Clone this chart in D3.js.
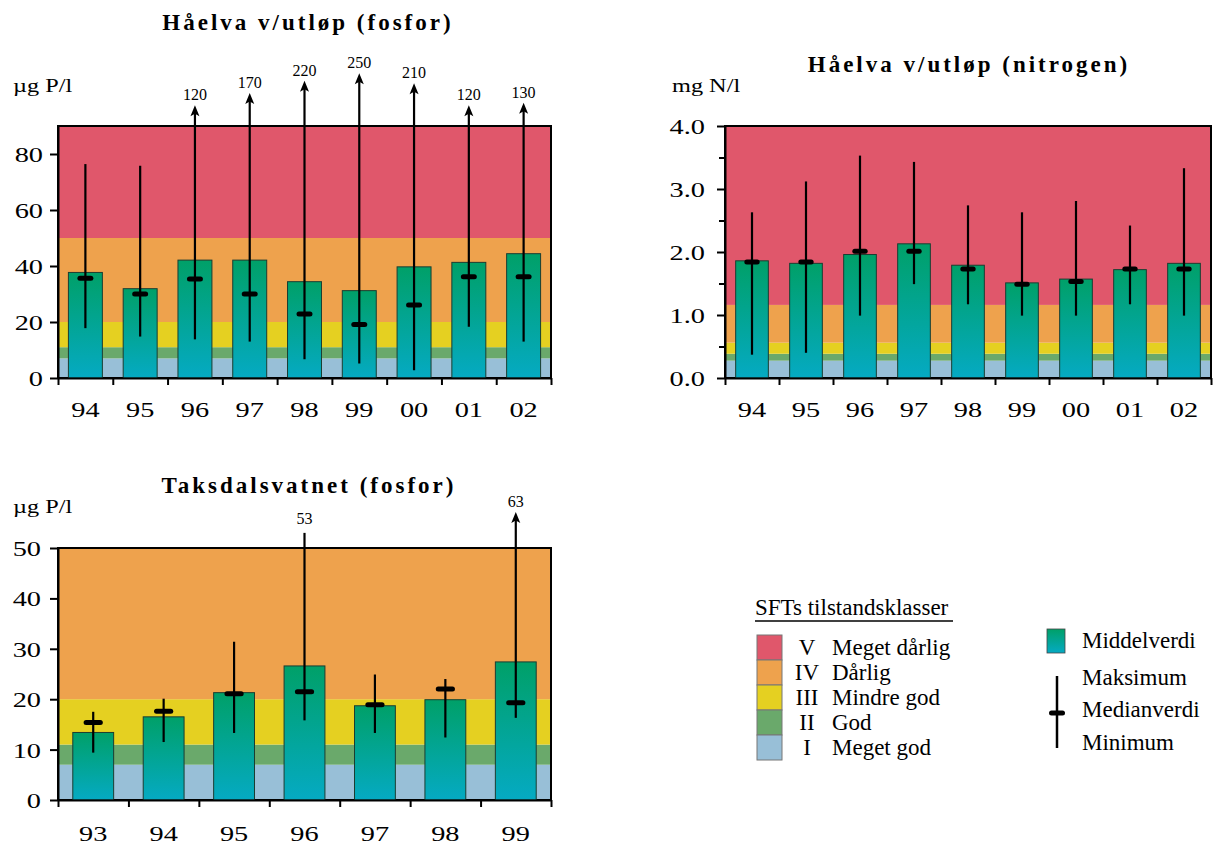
<!DOCTYPE html>
<html>
<head>
<meta charset="utf-8">
<script src="https://cdn.jsdelivr.net/npm/d3@7"></script>
<style>
  body { margin: 0; background: #fff; }
  text { font-family: "Liberation Serif", "Times New Roman", serif; fill: #000; }
</style>
</head>
<body>
<svg id="chart" width="1216" height="848"></svg>
<script>
// SFT classes (bottom to top)
var classNames = ["I", "II", "III", "IV", "V"];
var classLabels = ["Meget god", "God", "Mindre god", "Dårlig", "Meget dårlig"];
var classColors = ["#98bfd7", "#6aa96b", "#e5d021", "#eea24d", "#e0576b"];

// Håelva v/utløp (fosfor), µg P/l
var fosforYears = ["94", "95", "96", "97", "98", "99", "00", "01", "02"];
var fosforMean = [37.7, 31.9, 42.1, 42.1, 34.4, 31.2, 39.7, 41.3, 44.4];
var fosforMedian = [35.6, 30.0, 35.4, 30.0, 22.9, 19.1, 26.1, 36.2, 36.2];
var fosforMin = [17.8, 14.8, 13.8, 13.0, 6.7, 5.2, 2.8, 18.3, 13.0];
var fosforMax = [76.4, 75.8, 120, 170, 220, 250, 210, 120, 130];
var fosforLimits = [7, 11, 20, 50];

// Håelva v/utløp (nitrogen), mg N/l
var nitrogenYears = ["94", "95", "96", "97", "98", "99", "00", "01", "02"];
var nitrogenMean = [1.86, 1.82, 1.96, 2.13, 1.79, 1.51, 1.57, 1.72, 1.82];
var nitrogenMedian = [1.84, 1.84, 2.01, 2.01, 1.73, 1.49, 1.53, 1.73, 1.73];
var nitrogenMin = [0.37, 0.40, 0.99, 1.49, 1.17, 0.99, 0.99, 1.17, 0.99];
var nitrogenMax = [2.63, 3.12, 3.53, 3.43, 2.74, 2.63, 2.81, 2.42, 3.33];
var nitrogenLimits = [0.275, 0.385, 0.56, 1.16];

// Taksdalsvatnet (fosfor), µg P/l
var takYears = ["93", "94", "95", "96", "97", "98", "99"];
var takMean = [13.4, 16.5, 21.3, 26.6, 18.7, 19.9, 27.4];
var takMedian = [15.4, 17.6, 21.1, 21.5, 18.9, 22.0, 19.3];
var takMin = [9.4, 11.5, 13.3, 15.8, 13.3, 12.4, 16.3];
var takMax = [17.5, 20.1, 31.4, 53, 24.9, 24.0, 63];
var takLimits = [7, 11, 20, 50];

var svg = d3.select("#chart");
var STRETCH = 1.35;   // axis text in the original is drawn wide

// bar gradient
var grad = svg.append("defs").append("linearGradient")
    .attr("id", "barGrad")
    .attr("x1", "0").attr("y1", "0").attr("x2", "0").attr("y2", "1");
grad.append("stop").attr("offset", "0%").attr("stop-color", "#00a068");
grad.append("stop").attr("offset", "100%").attr("stop-color", "#05aac3");

function drawChart(c) {
    var g = svg.append("g");
    var n = c.years.length;

    var y = d3.scaleLinear().domain([0, c.yMax]).range([c.bottom, c.top]);
    var x = d3.scaleBand()
        .domain(c.years)
        .range([c.left, c.right])
        .paddingInner(c.pad)
        .paddingOuter(c.pad / 2);
    var xs = d3.scaleLinear().domain([0, n]).range([c.left, c.right]);

    // class bands
    var lows = [0].concat(c.limits);
    var highs = c.limits.concat([c.yMax]);
    g.selectAll("rect.band")
        .data(classColors)
        .join("rect")
        .attr("class", "band")
        .attr("x", c.left)
        .attr("width", c.right - c.left)
        .attr("y", function (d, i) { return y(highs[i]); })
        .attr("height", function (d, i) { return Math.max(0, y(lows[i]) - y(highs[i])); })
        .attr("fill", function (d) { return d; });

    // frame
    g.append("rect")
        .attr("x", c.left).attr("y", c.top)
        .attr("width", c.right - c.left).attr("height", c.bottom - c.top)
        .attr("fill", "none").attr("stroke", "#000").attr("stroke-width", 2);

    var rows = c.years.map(function (yr, i) {
        return { year: yr, mean: c.mean[i], median: c.median[i], min: c.min[i], max: c.max[i] };
    });

    // mean bars
    g.selectAll("rect.bar")
        .data(rows)
        .join("rect")
        .attr("class", "bar")
        .attr("x", function (d) { return x(d.year); })
        .attr("width", x.bandwidth())
        .attr("y", function (d) { return y(d.mean); })
        .attr("height", function (d) { return c.bottom - y(d.mean); })
        .attr("fill", "url(#barGrad)")
        .attr("stroke", "#1b3d31")
        .attr("stroke-width", 1);

    function cx(d) { return x(d.year) + x.bandwidth() / 2; }
    function isArrow(d) { return d.max > c.cap; }
    function topVal(d) { return isArrow(d) ? c.tip(d.max) : d.max; }

    // min-max lines
    g.selectAll("line.whisker")
        .data(rows)
        .join("line")
        .attr("class", "whisker")
        .attr("x1", cx).attr("x2", cx)
        .attr("y1", function (d) { return y(d.min); })
        .attr("y2", function (d) { return y(topVal(d)) + (isArrow(d) ? 8 : 0); })
        .attr("stroke", "#000").attr("stroke-width", 2.2);

    // arrow heads for values off the scale
    g.selectAll("path.arrow")
        .data(rows.filter(isArrow))
        .join("path")
        .attr("class", "arrow")
        .attr("d", function (d) {
            var px = cx(d), py = y(topVal(d));
            return "M" + px + "," + py + "L" + (px + 4.5) + "," + (py + 11) +
                "L" + px + "," + (py + 8.5) + "L" + (px - 4.5) + "," + (py + 11) + "Z";
        })
        .attr("fill", "#000");

    // value labels above the plot
    g.selectAll("text.over")
        .data(rows.filter(function (d) { return d.max > c.yMax; }))
        .join("text")
        .attr("class", "over")
        .attr("x", cx)
        .attr("y", function (d) { return y(topVal(d)) - (isArrow(d) ? 5 : 9); })
        .attr("text-anchor", "middle")
        .attr("font-size", 16)
        .text(function (d) { return d.max; });

    // medians
    var mw = x.bandwidth() * 0.47;
    g.selectAll("line.median")
        .data(rows)
        .join("line")
        .attr("class", "median")
        .attr("x1", function (d) { return cx(d) - mw / 2 + 2.5; })
        .attr("x2", function (d) { return cx(d) + mw / 2 - 2.5; })
        .attr("y1", function (d) { return y(d.median); })
        .attr("y2", function (d) { return y(d.median); })
        .attr("stroke", "#000").attr("stroke-width", 5)
        .attr("stroke-linecap", "round");

    // y axis
    var yAxis = g.append("g")
        .attr("transform", "translate(" + c.left + ",0)")
        .call(d3.axisLeft(y).tickValues(c.yTicks).tickSize(8).tickSizeOuter(0).tickFormat(c.fmt));
    if (c.minor) {
        g.append("g")
            .attr("transform", "translate(" + c.left + ",0)")
            .call(d3.axisLeft(y).tickValues(c.minor).tickSize(6).tickSizeOuter(0).tickFormat(""))
            .selectAll("line").attr("stroke-width", 2);
    }
    yAxis.selectAll("path, line").attr("stroke-width", 2);
    yAxis.selectAll("text")
        .attr("font-size", 21)
        .attr("x", -c.labelGap / STRETCH)
        .attr("dy", "0.36em")
        .attr("transform", "scale(" + STRETCH + ",1)");

    // x axis: ticks between categories, labels centred
    var xTicks = g.append("g")
        .attr("transform", "translate(0," + c.bottom + ")")
        .call(d3.axisBottom(xs).tickValues(d3.range(n + 1)).tickSize(7).tickSizeOuter(0).tickFormat(""));
    xTicks.selectAll("path, line").attr("stroke-width", 2);

    var xLabels = g.append("g")
        .attr("transform", "translate(0," + c.bottom + ")")
        .call(d3.axisBottom(x).tickSize(0));
    xLabels.select(".domain").remove();
    xLabels.selectAll("text")
        .attr("font-size", 21)
        .attr("y", c.xLabelY)
        .attr("dy", "0.71em")
        .attr("transform", "scale(" + STRETCH + ",1)");

    // title and unit
    g.append("text")
        .attr("x", c.titleX).attr("y", c.titleY)
        .attr("text-anchor", "middle")
        .attr("font-size", 23)
        .attr("font-weight", "bold")
        .attr("letter-spacing", 3)
        .text(c.title);

    g.append("text")
        .attr("transform", "translate(" + c.unitX + "," + c.unitY + ") scale(" + STRETCH + ",1)")
        .attr("font-size", 18)
        .text(c.unit);
}

drawChart({
    years: fosforYears, mean: fosforMean, median: fosforMedian, min: fosforMin, max: fosforMax,
    limits: fosforLimits, yMax: 90, yTicks: [0, 20, 40, 60, 80], fmt: d3.format("d"),
    left: 58, right: 551, top: 126, bottom: 378, pad: 0.38,
    cap: 90, tip: d3.scaleLinear().domain([120, 250]).range([97.4, 108.8]),
    labelGap: 15, xLabelY: 24,
    title: "Håelva v/utløp (fosfor)", titleX: 308, titleY: 30,
    unit: "µg P/l", unitX: 13, unitY: 92
});

drawChart({
    years: nitrogenYears, mean: nitrogenMean, median: nitrogenMedian, min: nitrogenMin, max: nitrogenMax,
    limits: nitrogenLimits, yMax: 4, yTicks: [0, 1, 2, 3, 4], minor: [0.5, 1.5, 2.5, 3.5],
    fmt: d3.format(".1f"),
    left: 725, right: 1211, top: 126, bottom: 378, pad: 0.395,
    cap: 4, tip: d3.scaleLinear().domain([4, 5]).range([4.2, 4.4]),
    labelGap: 20, xLabelY: 24,
    title: "Håelva v/utløp (nitrogen)", titleX: 969, titleY: 72,
    unit: "mg N/l", unitX: 672, unitY: 92
});

drawChart({
    years: takYears, mean: takMean, median: takMedian, min: takMin, max: takMax,
    limits: takLimits, yMax: 50, yTicks: [0, 10, 20, 30, 40, 50], fmt: d3.format("d"),
    left: 58, right: 551, top: 548, bottom: 800, pad: 0.42,
    cap: 55, tip: d3.scaleLinear().domain([55, 70]).range([55.5, 58.6]),
    labelGap: 17, xLabelY: 26,
    title: "Taksdalsvatnet (fosfor)", titleX: 309, titleY: 493,
    unit: "µg P/l", unitX: 13, unitY: 513
});

// ---- legend: SFT classes ----
var leg = svg.append("g");
leg.append("text")
    .attr("x", 755).attr("y", 615)
    .attr("font-size", 23)
    .text("SFTs tilstandsklasser");
leg.append("line")
    .attr("x1", 755).attr("x2", 953).attr("y1", 621).attr("y2", 621)
    .attr("stroke", "#000").attr("stroke-width", 1.5);

var legOrder = d3.range(classNames.length).reverse();
var rowY = d3.scaleBand().domain(legOrder).range([635, 760]);

var legRows = leg.selectAll("g.row")
    .data(legOrder)
    .join("g")
    .attr("class", "row")
    .attr("transform", function (i) { return "translate(0," + rowY(i) + ")"; });
legRows.append("rect")
    .attr("x", 757).attr("width", 25).attr("height", rowY.bandwidth())
    .attr("fill", function (i) { return classColors[i]; })
    .attr("stroke", "#777").attr("stroke-width", 1);
legRows.append("text")
    .attr("x", 807).attr("y", rowY.bandwidth() / 2 + 7.5)
    .attr("text-anchor", "middle")
    .attr("font-size", 23)
    .text(function (i) { return classNames[i]; });
legRows.append("text")
    .attr("x", 832).attr("y", rowY.bandwidth() / 2 + 7.5)
    .attr("font-size", 23)
    .text(function (i) { return classLabels[i]; });

// ---- legend: symbols ----
var sym = svg.append("g");
sym.append("rect")
    .attr("x", 1047).attr("y", 629).attr("width", 18).attr("height", 24)
    .attr("fill", "url(#barGrad)").attr("stroke", "#444").attr("stroke-width", 0.8);
sym.append("text").attr("x", 1082).attr("y", 648).attr("font-size", 23).text("Middelverdi");
sym.append("line")
    .attr("x1", 1057).attr("x2", 1057).attr("y1", 676).attr("y2", 748)
    .attr("stroke", "#000").attr("stroke-width", 2.5);
sym.append("line")
    .attr("x1", 1051.5).attr("x2", 1062.5).attr("y1", 713).attr("y2", 713)
    .attr("stroke", "#000").attr("stroke-width", 5).attr("stroke-linecap", "round");
sym.append("text").attr("x", 1082).attr("y", 685).attr("font-size", 23).text("Maksimum");
sym.append("text").attr("x", 1082).attr("y", 717).attr("font-size", 23).text("Medianverdi");
sym.append("text").attr("x", 1082).attr("y", 750).attr("font-size", 23).text("Minimum");
</script>
</body>
</html>
